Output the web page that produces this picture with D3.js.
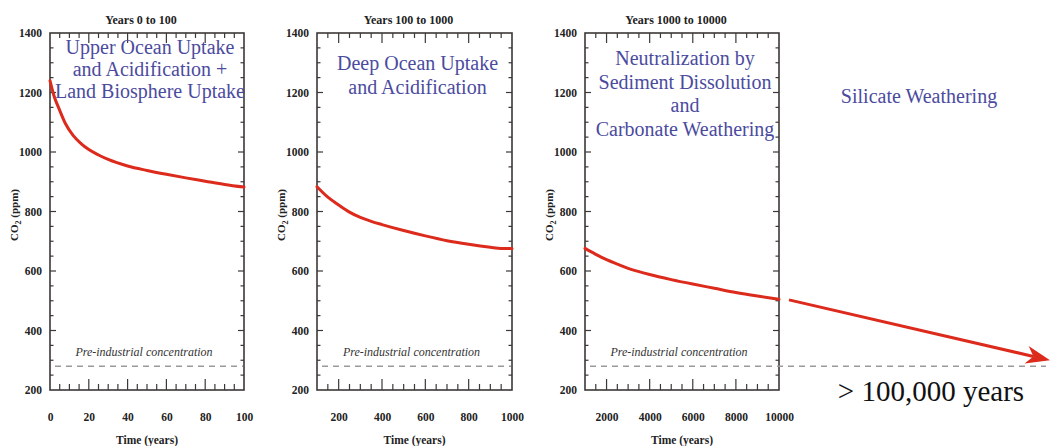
<!DOCTYPE html>
<html>
<head>
<meta charset="utf-8">
<script src="https://cdn.jsdelivr.net/npm/d3@7"></script>
<style>
  html, body { margin: 0; padding: 0; background: #fff; }
  svg { display: block; font-family: "Liberation Serif", "DejaVu Serif", serif; }
  text { font-family: "Liberation Serif", "DejaVu Serif", serif; }
</style>
</head>
<body>
<svg id="chart" width="1051" height="446"></svg>
<script>
// ---------------- DATA ----------------
const panelTitles = ["Years  0 to 100", "Years 100 to 1000", "Years 1000 to 10000"];
const xDomains = [[0, 100], [100, 1000], [1000, 10000]];
const xTickLabels = [[0, 20, 40, 60, 80, 100], [200, 400, 600, 800, 1000], [2000, 4000, 6000, 8000, 10000]];
const xMinorSteps = [5, 50, 500];
const yDomain = [200, 1400];
const yTickLabels = [200, 400, 600, 800, 1000, 1200, 1400];
const yMinorStep = 50;

const years1 = [0, 2, 5, 8, 12, 16, 20, 25, 30, 40, 50, 60, 70, 80, 90, 100];
const co2_1  = [1240, 1190, 1140, 1095, 1055, 1028, 1008, 990, 975, 953, 938, 925, 913, 902, 891, 882];
const years2 = [100, 150, 200, 250, 300, 350, 400, 500, 600, 700, 800, 900, 950, 1000];
const co2_2  = [883, 848, 822, 798, 780, 767, 756, 736, 718, 702, 690, 680, 676, 676];
const years3 = [1000, 1500, 2000, 2500, 3000, 3500, 4000, 5000, 6000, 7000, 8000, 9000, 10000];
const co2_3  = [676, 656, 638, 623, 609, 598, 588, 571, 556, 542, 528, 516, 505];

const preIndustrial = 280;
const arrowFromCO2 = 503;   // continuation beyond 10,000 years
const arrowToCO2 = 300;

const processLabels = [
  ["Upper Ocean Uptake", "and Acidification +", "Land Biosphere Uptake"],
  ["Deep Ocean Uptake", "and Acidification"],
  ["Neutralization by", "Sediment Dissolution", "and", "Carbonate Weathering"]
];
const silicateLabel = "Silicate Weathering";
const longTermLabel = "> 100,000 years";
const xAxisTitle = "Time (years)";
const preIndLabel = "Pre-industrial concentration";

// ---------------- LAYOUT ----------------
const svg = d3.select("#chart");
const plotTop = 33, plotBottom = 390;
const panelBox = [[50, 244], [317, 512], [585, 779]];
const labelTop = [47, 63, 58];
const labelStep = [22, 24, 23.5];
const seriesX = [years1, years2, years3];
const seriesY = [co2_1, co2_2, co2_3];

const blue = "#4b4b9e";
const red = "#dc2a1c";
const axisCol = "#3d3838";
const serif = "'Liberation Serif', 'DejaVu Serif', serif";

const y = d3.scaleLinear().domain(yDomain).range([plotBottom, plotTop]);

panelBox.forEach((box, i) => {
  const [x0, x1] = box;
  const x = d3.scaleLinear().domain(xDomains[i]).range([x0, x1]);
  const g = svg.append("g");

  const [d0, d1] = xDomains[i];
  const xMinor = d3.range(d0, d1 + 1e-9, xMinorSteps[i]).filter(v => v > d0 && v < d1);
  const majorSet = new Set(xTickLabels[i]);
  const yMinor = d3.range(yDomain[0], yDomain[1] + 1e-9, yMinorStep).filter(v => v > yDomain[0] && v < yDomain[1]);
  const yMajorSet = new Set(yTickLabels);

  // x ticks (inward) on bottom and top
  xMinor.forEach(v => {
    const len = majorSet.has(v) ? 11 : 6;
    g.append("line").attr("x1", x(v)).attr("x2", x(v)).attr("y1", plotBottom).attr("y2", plotBottom - len)
      .attr("stroke", axisCol).attr("stroke-width", 1.2);
    g.append("line").attr("x1", x(v)).attr("x2", x(v)).attr("y1", plotTop).attr("y2", plotTop + len - 1)
      .attr("stroke", axisCol).attr("stroke-width", 1.2);
  });
  // y ticks on both sides
  yMinor.forEach(v => {
    const len = yMajorSet.has(v) ? 6 : 3.5;
    g.append("line").attr("x1", x0).attr("x2", x0 + len).attr("y1", y(v)).attr("y2", y(v))
      .attr("stroke", axisCol).attr("stroke-width", 1.2);
    g.append("line").attr("x1", x1).attr("x2", x1 - len).attr("y1", y(v)).attr("y2", y(v))
      .attr("stroke", axisCol).attr("stroke-width", 1.2);
  });

  // x tick labels
  const axL = d3.axisBottom(x).tickValues(xTickLabels[i]).tickSize(0).tickPadding(0).tickFormat(d3.format("d"));
  const gx = g.append("g").attr("transform", `translate(0,${plotBottom + 31})`).call(axL);
  gx.select(".domain").remove();
  gx.selectAll("text").attr("dy", 0).attr("y", 0)
    .style("font-family", serif).style("font-size", "11.5px")
    .style("font-weight", "bold").attr("fill", "#222");

  // y tick labels
  const axY = d3.axisLeft(y).tickValues(yTickLabels).tickSize(0).tickPadding(8).tickFormat(d3.format("d"));
  const gy = g.append("g").attr("transform", `translate(${x0},0)`).call(axY);
  gy.select(".domain").remove();
  gy.selectAll("text").style("font-family", serif).style("font-size", "11.5px")
    .style("font-weight", "bold").attr("fill", "#222");

  // frame
  g.append("rect").attr("x", x0).attr("y", plotTop).attr("width", x1 - x0).attr("height", plotBottom - plotTop)
    .attr("fill", "none").attr("stroke", axisCol).attr("stroke-width", 1.6);

  // panel title
  g.append("text").attr("x", (x0 + x1) / 2 - 6).attr("y", 24).attr("text-anchor", "middle")
    .style("font-family", serif).style("font-size", "12px").style("font-weight", "bold").attr("fill", "#222")
    .text(panelTitles[i]);

  // x axis title
  g.append("text").attr("x", (x0 + x1) / 2).attr("y", 444).attr("text-anchor", "middle")
    .style("font-family", serif).style("font-size", "11.5px").style("font-weight", "bold").attr("fill", "#222")
    .text(xAxisTitle);

  // y axis title
  const yt = g.append("text").attr("transform", `translate(${x0 - 32},215) rotate(-90)`)
    .attr("text-anchor", "middle").style("font-family", serif).style("font-size", "11px")
    .style("font-weight", "bold").attr("fill", "#222");
  yt.append("tspan").text("CO");
  yt.append("tspan").attr("dy", 3).style("font-size", "8px").text("2");
  yt.append("tspan").attr("dy", -3).text(" (ppm)");

  // pre-industrial dashed line
  const dashEnd = i === 2 ? 1046 : x1 - 1;
  g.append("line").attr("x1", x0 + 5).attr("x2", dashEnd).attr("y1", y(preIndustrial)).attr("y2", y(preIndustrial))
    .attr("stroke", "#9a9a9a").attr("stroke-width", 1.6).attr("stroke-dasharray", "6,5");
  g.append("text").attr("x", (x0 + x1) / 2 - 3).attr("y", y(preIndustrial) - 10).attr("text-anchor", "middle")
    .style("font-family", serif).style("font-size", "12px").style("font-style", "italic")
    .attr("fill", "#333").text(preIndLabel);

  // curve
  const pts = seriesX[i].map((t, k) => [t, seriesY[i][k]]);
  g.append("path").datum(pts)
    .attr("d", d3.line().x(d => x(d[0])).y(d => y(d[1])).curve(d3.curveMonotoneX))
    .attr("fill", "none").attr("stroke", red).attr("stroke-width", 3).attr("stroke-linecap", "round");

  // process label
  const cx = (x0 + x1) / 2 + 3;
  processLabels[i].forEach((ln, k) => {
    g.append("text").attr("x", cx).attr("y", labelTop[i] + k * labelStep[i]).attr("dy", "0.35em")
      .attr("text-anchor", "middle").style("font-family", serif).style("font-size", "20px")
      .attr("fill", blue).text(ln);
  });
});

// silicate weathering annotation and arrow
svg.append("text").attr("x", 919).attr("y", 96).attr("dy", "0.35em").attr("text-anchor", "middle")
  .style("font-family", serif).style("font-size", "20px").attr("fill", blue).text(silicateLabel);

const ax0 = 789, ax1 = 1050;
const ay0 = y(arrowFromCO2), ay1 = y(arrowToCO2);
const ang = Math.atan2(ay1 - ay0, ax1 - ax0);
const headLen = 24, headW = 9, notch = 7;
const ux = Math.cos(ang), uy = Math.sin(ang), px = -uy, py = ux;
svg.append("line").attr("x1", ax0).attr("y1", ay0)
  .attr("x2", ax1 - ux * (headLen - notch)).attr("y2", ay1 - uy * (headLen - notch))
  .attr("stroke", red).attr("stroke-width", 3);
const bx = ax1 - ux * headLen, by = ay1 - uy * headLen;
const nx = ax1 - ux * (headLen - notch), ny = ay1 - uy * (headLen - notch);
svg.append("path")
  .attr("d", `M${ax1},${ay1} L${bx + px * headW},${by + py * headW} L${nx},${ny} L${bx - px * headW},${by - py * headW} Z`)
  .attr("fill", red);

svg.append("text").attr("x", 931).attr("y", 391).attr("dy", "0.35em").attr("text-anchor", "middle")
  .style("font-family", serif).style("font-size", "29px").attr("fill", "#111").text(longTermLabel);
</script>
</body>
</html>
